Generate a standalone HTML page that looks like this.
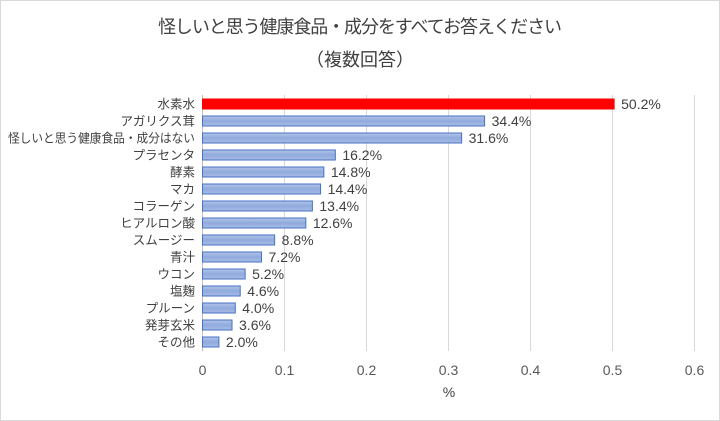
<!DOCTYPE html>
<html><head><meta charset="utf-8"><style>
body{margin:0;background:#fff}
svg{display:block;font-family:"Liberation Sans","Noto Sans CJK JP",sans-serif}
</style></head><body>
<svg id="c" width="720" height="421">
<rect x="0.5" y="0.5" width="719" height="420" fill="#fff" stroke="#d9d9d9"/>
<text x="360" y="33" text-anchor="middle" font-size="18" fill="#404040" textLength="404">怪しいと思う健康食品・成分をすべてお答えください</text>
<text x="360" y="66" text-anchor="middle" font-size="18" fill="#404040">（複数回答）</text>
<g id="grid"></g><g id="bars"></g>
<text x="449" y="397" text-anchor="middle" font-size="14" fill="#404040">%</text>
</svg>
<script>
const categories=["水素水","アガリクス茸","怪しいと思う健康食品・成分はない","プラセンタ","酵素","マカ","コラーゲン","ヒアルロン酸","スムージー","青汁","ウコン","塩麹","プルーン","発芽玄米","その他"];
const values=[0.502,0.344,0.316,0.162,0.148,0.144,0.134,0.126,0.088,0.072,0.052,0.046,0.040,0.036,0.020];
const valueLabels=["50.2%","34.4%","31.6%","16.2%","14.8%","14.4%","13.4%","12.6%","8.8%","7.2%","5.2%","4.6%","4.0%","3.6%","2.0%"];
const ticks=[0,0.1,0.2,0.3,0.4,0.5,0.6];
const tickLabels=["0","0.1","0.2","0.3","0.4","0.5","0.6"];
const NS="http://www.w3.org/2000/svg";
const x=v=>202.5+v*820;
const y=i=>104+i*17;
function mk(t,a,p){const e=document.createElementNS(NS,t);for(const k in a)e.setAttribute(k,a[k]);p.appendChild(e);return e;}
const g=document.getElementById('grid'),b=document.getElementById('bars');
const defs=mk('defs',{},document.getElementById('c'));
const lg=mk('linearGradient',{id:'bg',x1:0,y1:0,x2:0,y2:1},defs);
mk('stop',{offset:0,'stop-color':'#b4c5e8'},lg);mk('stop',{offset:0.5,'stop-color':'#8faadc'},lg);mk('stop',{offset:1,'stop-color':'#a9bde5'},lg);
ticks.forEach((t,i)=>{
 const l=mk('line',{x1:x(t),x2:x(t),y1:95,y2:351,stroke:i==0?'#bfbfbf':'#d9d9d9'},g);
 
 
 const tx=mk('text',{x:x(t),y:375,'text-anchor':'middle','font-size':14,fill:'#595959'},g);
 tx.textContent=tickLabels[i];
 
 
});
categories.forEach((c,i)=>{
 const r=mk('rect',{x:x(0),y:y(i)-5,width:x(values[i])-x(0),height:10,fill:i==0?'#ff0000':'url(#bg)',stroke:i==0?'#ff0000':'#4472c4','stroke-width':1},b);
 
 
 const attrs={x:195,y:y(i)+4.5,'text-anchor':'end','font-size':12.5,fill:'#404040'};
 if(c.length>12){attrs.textLength=187;attrs.lengthAdjust='spacingAndGlyphs';}
 const cl=mk('text',attrs,b);
 cl.textContent=c;
 
 
 const vl=mk('text',{x:x(values[i])+7,y:y(i)+5,'font-size':14,fill:'#404040'},b);
 vl.textContent=valueLabels[i];
 
 
});
</script>
</body></html>
